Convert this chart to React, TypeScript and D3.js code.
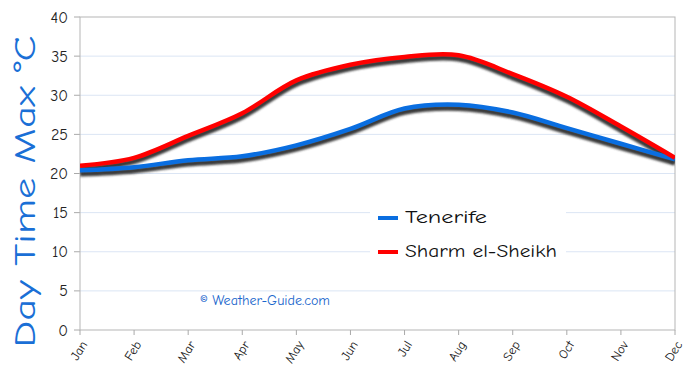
import React from "react";
import * as d3 from "d3";

const months = ["Jan", "Feb", "Mar", "Apr", "May", "Jun", "Jul", "Aug", "Sep", "Oct", "Nov", "Dec"];
const tenerife = [20.4, 20.8, 21.7, 22.2, 23.6, 25.7, 28.3, 28.8, 27.8, 25.8, 23.8, 21.8];
const sharm = [21.0, 22.0, 24.8, 27.7, 31.9, 33.9, 34.9, 35.1, 32.7, 29.8, 26.0, 22.0];
const yTicks = [0, 5, 10, 15, 20, 25, 30, 35, 40];
const seriesNames = ["Tenerife", "Sharm el-Sheikh"];
const seriesColors = ["#0a6ee0", "#ff0000"];
const legendWidths = [82, 152];

const W = 690, H = 375;
const left = 80, right = 675, top = 17, bottom = 330;
const font = "'Comic Sans MS', 'Comic Neue', cursive, Lato, sans-serif";

export default function App() {
  const x = d3.scalePoint<string>().domain(months).range([left, right]);
  const y = d3.scaleLinear().domain([0, 40]).range([bottom, top]);
  const line = d3
    .line<number>()
    .x((_, i) => x(months[i]) as number)
    .y((d) => y(d))
    .curve(d3.curveCatmullRom.alpha(0.5));
  const series = [tenerife, sharm];

  return (
    <svg width={W} height={H} style={{ position: "absolute", left: 0, top: 0, background: "#fff" }}>
      <defs>
        <filter id="blur" x="-10%" y="-50%" width="120%" height="200%">
          <feGaussianBlur stdDeviation="1.3" />
        </filter>
        <clipPath id="plot">
          <rect x={left} y={top} width={right - left} height={bottom - top} />
        </clipPath>
      </defs>
      {yTicks.map((t) => (
        <g key={t}>
          {t > 0 && t < 40 && (
            <line x1={left} x2={right} y1={y(t)} y2={y(t)} stroke="#dbe5f4" strokeWidth={1} />
          )}
          <line x1={left - 6} x2={left} y1={y(t)} y2={y(t)} stroke="#aaa" />
          <text x={left - 12} y={y(t)} dy="0.35em" textAnchor="end" fontSize={16} fontFamily={font} fill="#222">
            {t}
          </text>
        </g>
      ))}
      <rect x={left} y={top} width={right - left} height={bottom - top} fill="none" stroke="#b5b5b5" strokeWidth={1} />
      {months.map((m) => {
        const px = x(m) as number;
        return (
          <g key={m}>
            <line x1={px} x2={px} y1={bottom} y2={bottom + 5} stroke="#aaa" />
            <text
              transform={`translate(${px + 4},${bottom + 12}) rotate(-58)`}
              textAnchor="end"
              dy="0.35em"
              fontSize={13}
              fontFamily={font}
              fill="#222"
            >
              {m}
            </text>
          </g>
        );
      })}
      <g clipPath="url(#plot)">
        {series.map((s, i) => (
          <path
            key={"sh" + i}
            d={line(s) || ""}
            transform="translate(0,3.5)"
            fill="none"
            stroke="#3a3a3a"
            strokeWidth={5.5}
            filter="url(#blur)"
          />
        ))}
        {series.map((s, i) => (
          <path key={"l" + i} d={line(s) || ""} fill="none" stroke={seriesColors[i]} strokeWidth={4.5} />
        ))}
      </g>
      <rect x={370} y={200} width={196} height={68} fill="#fff" />
      {seriesNames.map((n, i) => (
        <g key={n}>
          <line x1={378} x2={398} y1={218 + i * 34} y2={218 + i * 34} stroke={seriesColors[i]} strokeWidth={4} />
          <text
            x={405}
            y={217 + i * 34}
            dy="0.35em"
            fontSize={18}
            fontFamily={font}
            fill="#111"
            textLength={legendWidths[i]}
            lengthAdjust="spacingAndGlyphs"
          >
            {n}
          </text>
        </g>
      ))}
      <text
        x={200}
        y={300}
        dy="0.35em"
        fontSize={13}
        fontFamily={font}
        fill="#1a66cc"
        textLength={130}
        lengthAdjust="spacingAndGlyphs"
      >
        ©  Weather-Guide.com
      </text>
      <text
        transform={`translate(35,${(top + bottom) / 2 + 18}) rotate(-90)`}
        textAnchor="middle"
        fontSize={31}
        fontFamily={font}
        fill="#1a6fd6"
        textLength={312}
        lengthAdjust="spacingAndGlyphs"
      >
        Day Time Max °C
      </text>
    </svg>
  );
}
